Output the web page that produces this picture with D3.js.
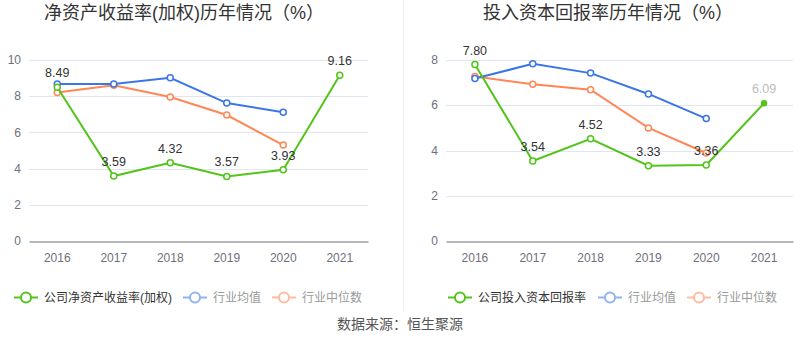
<!DOCTYPE html>
<html><head><meta charset="utf-8">
<script src="https://cdn.jsdelivr.net/npm/d3@7/dist/d3.min.js"></script>
<style>body{margin:0;background:#fff;}svg{display:block;font-family:"Liberation Sans","Noto Sans CJK SC",sans-serif;}</style>
</head><body>
<svg id="c" width="800" height="358"></svg>
<script>
const years = ["2016","2017","2018","2019","2020","2021"];
const roeCompany = [8.49, 3.59, 4.32, 3.57, 3.93, 9.16];
const roeMean = [8.67, 8.67, 9.02, 7.62, 7.11, null];
const roeMedian = [8.21, 8.60, 7.96, 6.96, 5.30, null];
const roicCompany = [7.80, 3.54, 4.52, 3.33, 3.36, 6.09];
const roicMean = [7.18, 7.83, 7.42, 6.50, 5.41, null];
const roicMedian = [7.27, 6.93, 6.69, 5.00, 3.89, null];
const roeTicks = [0, 2, 4, 6, 8, 10];
const roicTicks = [0, 2, 4, 6, 8];
const titles = ["净资产收益率(加权)历年情况（%）", "投入资本回报率历年情况（%）"];
const legendNames = [["公司净资产收益率(加权)", "行业均值", "行业中位数"], ["公司投入资本回报率", "行业均值", "行业中位数"]];
const source = "数据来源：恒生聚源";

const C = {green: "#52c41a", blue: "#3a76e6", orange: "#ff8655"};
const CJK = '"Noto Sans CJK SC",sans-serif';
const svg = d3.select("#c");

svg.append("line").attr("x1", 403.5).attr("x2", 403.5).attr("y1", 0).attr("y2", 311)
  .attr("stroke", "#eeeeee").attr("stroke-width", 1);

function chart(cfg) {
  const g = svg.append("g");
  const x = d3.scaleBand().domain(years).range(cfg.xr).padding(0);
  const y = d3.scaleLinear().domain(cfg.yd).range([241, 60]);
  const cx = d => x(d) + x.bandwidth() / 2;

  g.selectAll(".grid").data(cfg.ticks.filter(t => t > 0)).join("line")
    .attr("x1", cfg.xr[0]).attr("x2", cfg.xr[1])
    .attr("y1", d => Math.round(y(d)) + 0.5).attr("y2", d => Math.round(y(d)) + 0.5)
    .attr("stroke", "#e0e6f1");
  g.selectAll(".yl").data(cfg.ticks).join("text")
    .attr("x", cfg.xr[0] - 8).attr("y", d => y(d)).attr("dy", "0.35em")
    .attr("text-anchor", "end").attr("font-size", 12).attr("fill", "#6e7079").text(d => d);
  const xa = g.append("g").attr("transform", "translate(0,241.5)")
    .call(d3.axisBottom(x).tickSize(0).tickPadding(12));
  xa.select(".domain").attr("stroke", "#6e7079");
  xa.selectAll("text").attr("font-size", 12).attr("fill", "#6e7079")
    .attr("font-family", '"Liberation Sans",sans-serif');

  const line = d3.line().defined(d => d[1] != null).x(d => cx(d[0])).y(d => y(d[1]));
  const series = [[cfg.median, C.orange], [cfg.mean, C.blue], [cfg.company, C.green]];
  series.forEach(([vals, col], si) => {
    const pts = years.map((yr, i) => [yr, vals[i], i]);
    g.append("path").datum(pts).attr("d", line).attr("fill", "none")
      .attr("stroke", col).attr("stroke-width", 2);
    const isDot = d => si === 2 && cfg.dotLast && d[2] === 5;
    g.selectAll(null).data(pts.filter(p => p[1] != null)).join("circle")
      .attr("cx", d => cx(d[0])).attr("cy", d => y(d[1]))
      .attr("r", d => isDot(d) ? 2.5 : 3)
      .attr("fill", d => isDot(d) ? col : "#fff")
      .attr("stroke", col).attr("stroke-width", 1.5);
  });
  g.selectAll(".lab").data(years.map((yr, i) => [yr, cfg.company[i], i])).join("text")
    .attr("x", d => cx(d[0])).attr("y", d => y(d[1]) - 10)
    .attr("text-anchor", "middle").attr("font-size", 12.5)
    .attr("fill", d => (cfg.dotLast && d[2] === 5) ? "#bbbbbb" : "#333")
    .text(d => d[1].toFixed(2));

  svg.append("text").attr("x", cfg.titleX).attr("y", 13).attr("dy", "0.35em")
    .attr("font-family", '"Liberation Sans","Noto Sans CJK SC",sans-serif')
    .attr("text-anchor", "middle").attr("font-size", 18).attr("fill", "#333").text(cfg.title);

  const cols = [C.green, C.blue, C.orange];
  cfg.legend.forEach((nm, i) => {
    const lx = cfg.legX[i];
    const lg = svg.append("g").attr("opacity", i === 0 ? 1 : 0.55);
    lg.append("line").attr("x1", lx).attr("x2", lx + 24).attr("y1", 297.5).attr("y2", 297.5)
      .attr("stroke", cols[i]).attr("stroke-width", 2);
    lg.append("circle").attr("cx", lx + 12).attr("cy", 297.5).attr("r", 5)
      .attr("fill", "#fff").attr("stroke", cols[i]).attr("stroke-width", 2);
    svg.append("text").attr("x", lx + 30).attr("y", 297.5).attr("dy", "0.35em")
      .attr("font-size", 12).attr("fill", i === 0 ? "#333" : "#999").text(nm);
  });
}

chart({xr: [29, 368], yd: [0, 10], ticks: roeTicks, company: roeCompany, mean: roeMean, median: roeMedian,
  title: titles[0], titleX: 184, legend: legendNames[0], legX: [14, 183, 272], dotLast: false});
chart({xr: [446, 793], yd: [0, 8], ticks: roicTicks, company: roicCompany, mean: roicMean, median: roicMedian,
  title: titles[1], titleX: 608, legend: legendNames[1], legX: [448, 598, 687], dotLast: true});

svg.append("text").attr("x", 400).attr("y", 324).attr("dy", "0.35em").attr("text-anchor", "middle")
  .attr("font-family", CJK).attr("font-size", 14).attr("fill", "#555").text(source);
</script>
</body></html>
